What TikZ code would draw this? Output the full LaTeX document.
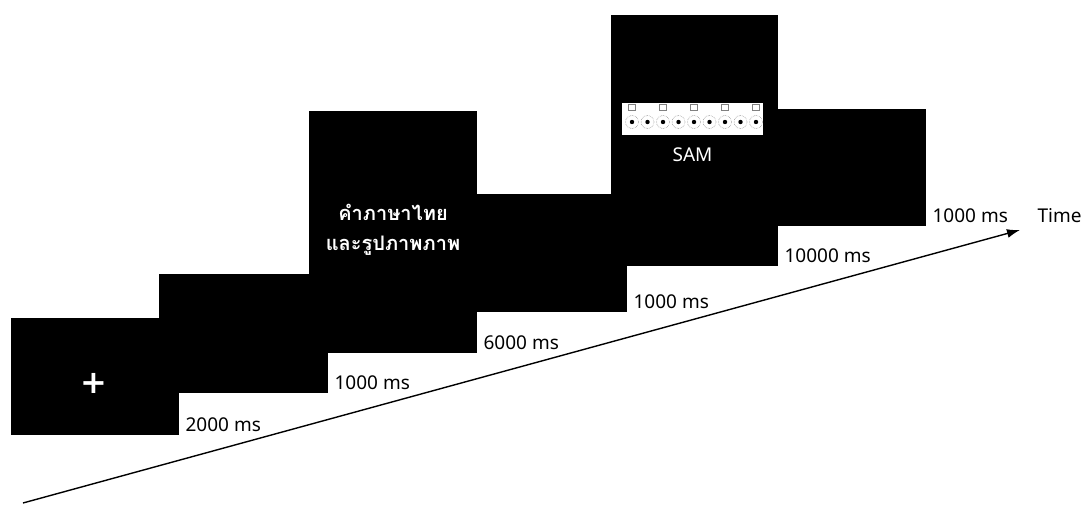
\documentclass[tikz,border=0pt]{standalone}
\usepackage{fontspec}
\setmainfont{Noto Sans}
\newfontfamily\thaifont[Script=Thai]{Loma}
\newfontfamily\crossfont{DejaVu Sans}
\usetikzlibrary{positioning,arrows.meta}

\begin{document}
\begin{tikzpicture}[
    x=1pt, y=-1pt,
    every node/.style={font=\fontsize{19}{22}\selectfont},
    screen/.style={fill=black, draw=black, anchor=north west, inner sep=0pt},
    msbox/.style={anchor=south west, inner sep=2pt, xshift=5pt, yshift=1pt},
    onscreen/.style={text=white}
]
\useasboundingbox (0,0) rectangle (1087,505);

\node[screen, minimum width=168pt, minimum height=118pt] (blanka) at (159,274) {};
\node[screen, minimum width=167pt, minimum height=116pt] (fix) at (11,318) {};
\node[screen, minimum width=167pt, minimum height=241pt] (stim) at (309,111) {};
\node[screen, minimum width=167pt, minimum height=117pt] (blankb) at (459,194) {};
\node[screen, minimum width=167pt, minimum height=116pt] (blankc) at (758,109) {};
\node[screen, minimum width=166pt, minimum height=250pt] (rate) at (611,15) {};

\node[onscreen, font=\crossfont\bfseries\fontsize{32}{32}\selectfont] (cross) at (94,383) {+};
\node[onscreen, align=center, font=\thaifont\bfseries\fontsize{20}{30}\selectfont] (words) at (393,230)
    {คำภาษาไทย\\และรูปภาพภาพ};

\node[fill=white, minimum width=141pt, minimum height=32pt, inner sep=0pt] (scale) at (692.5,119) {};
\foreach \i in {0,...,8} {
    \draw[gray!80, densely dotted, semithick] (632+15.5*\i,122) circle (6.5);
    \fill (632+15.5*\i,122) circle (2.2);
}
\foreach \i in {0,2,...,8}
    \draw[gray, thin] (628.5+15.5*\i,104) rectangle (635.5+15.5*\i,110);
\node[onscreen, below=9pt of scale] (samname) {SAM};

\node[msbox] (d1) at (fix.south east) {2000 ms};
\node[msbox] (d2) at (blanka.south east) {1000 ms};
\node[msbox] (d3) at (stim.south east) {6000 ms};
\node[msbox] (d4) at (blankb.south east) {1000 ms};
\node[msbox] (d5) at (rate.south east) {10000 ms};
\node[msbox] (d6) at (blankc.south east) {1000 ms};
\node[right=24pt of d6] (timelabel) {Time};

\coordinate (t0) at (23,503);
\coordinate (t1) at (1020,230);
\draw[-{Latex[length=13pt,width=9pt]}, line width=1.4pt] (t0) -- (t1);
\end{tikzpicture}
\end{document}
